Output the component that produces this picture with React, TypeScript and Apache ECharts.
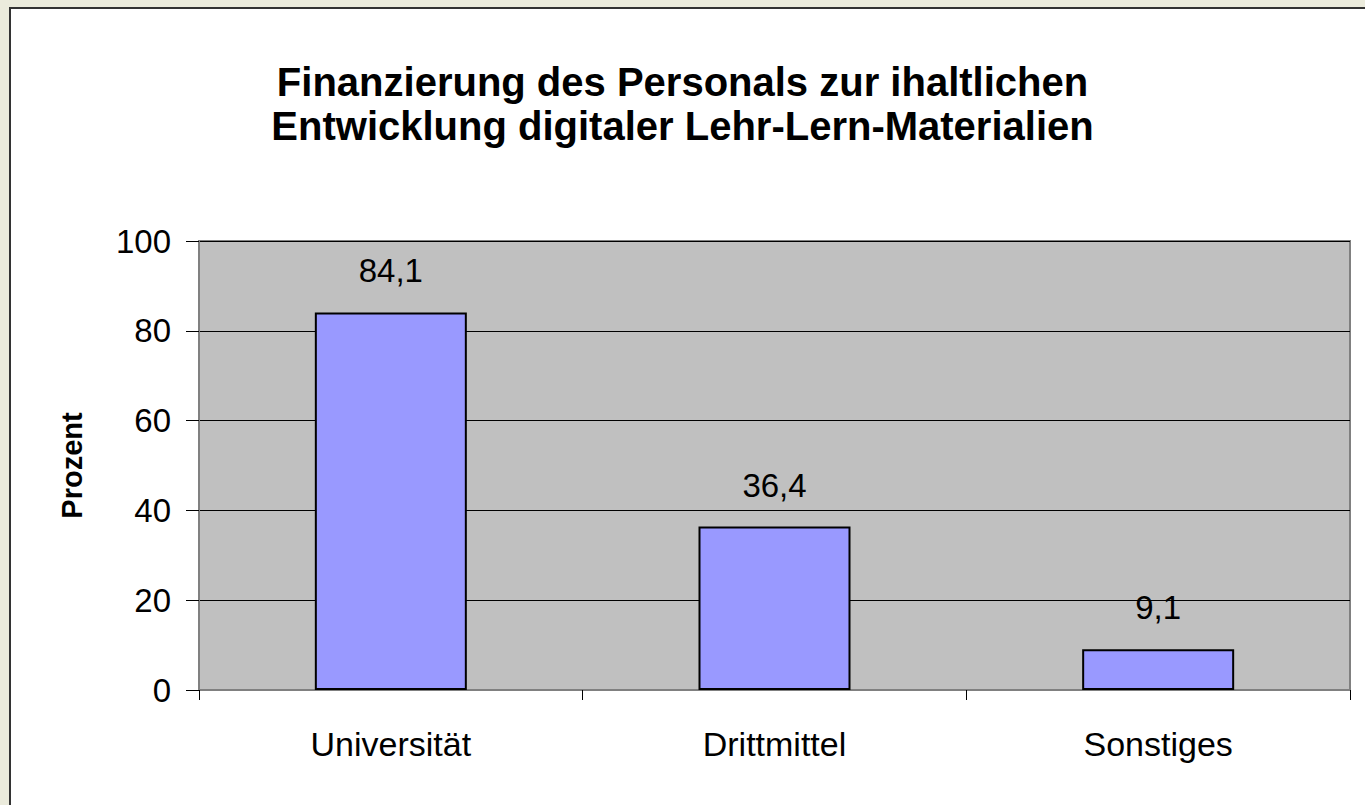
import React, { useEffect, useRef } from "react";
import * as echarts from "echarts";

const categories = ["Universität", "Drittmittel", "Sonstiges"];
const values = [84.1, 36.4, 9.1];
const yTicks = { min: 0, max: 100, interval: 20 };
const titleLines = [
  "Finanzierung des Personals zur ihaltlichen",
  "Entwicklung digitaler Lehr-Lern-Materialien",
];
const yAxisName = "Prozent";

const FONT = "'Liberation Sans', Arial, sans-serif";

export default function App() {
  const ref = useRef<HTMLDivElement>(null);
  useEffect(() => {
    document.body.style.margin = "0";
    const chart = echarts.init(ref.current!, null, { renderer: "svg" });
    chart.setOption({
      animation: false,
      backgroundColor: "transparent",
      textStyle: { fontFamily: FONT },
      graphic: [
        {
          type: "rect",
          shape: { x: 10, y: 8, width: 1400, height: 900 },
          style: { fill: "#ffffff", stroke: "#333333", lineWidth: 2 },
          silent: true,
          z: -10,
        },
      ],
      title: {
        text: titleLines.join("\n"),
        left: "center",
        top: 55,
        textStyle: {
          fontFamily: FONT,
          fontSize: 40,
          fontWeight: "bold",
          color: "#000",
          lineHeight: 44,
        },
      },
      grid: {
        left: 199,
        top: 241,
        right: 15,
        bottom: 115,
        show: true,
        backgroundColor: "#C0C0C0",
        borderColor: "#808080",
        borderWidth: 2,
      },
      xAxis: {
        type: "category",
        data: categories,
        axisLine: { lineStyle: { color: "#808080", width: 2 } },
        axisTick: { show: true, alignWithLabel: false, length: 10, lineStyle: { color: "#000" } },
        axisLabel: { fontSize: 34, color: "#000", margin: 37, fontFamily: FONT },
      },
      yAxis: {
        type: "value",
        min: yTicks.min,
        max: yTicks.max,
        interval: yTicks.interval,
        name: yAxisName,
        nameLocation: "middle",
        nameRotate: 90,
        nameGap: 113,
        nameTextStyle: { fontSize: 29, fontWeight: "bold", color: "#000", fontFamily: FONT },
        axisLine: { show: true, lineStyle: { color: "#808080", width: 2 } },
        axisTick: { show: true, length: 13, lineStyle: { color: "#000" } },
        axisLabel: { fontSize: 33, color: "#000", margin: 28, fontFamily: FONT },
        splitLine: { show: true, lineStyle: { color: "#000", width: 1 } },
      },
      series: [
        {
          type: "bar",
          data: values,
          barWidth: 152,
          itemStyle: { color: "#9999FF", borderColor: "#000", borderWidth: 2 },
          label: {
            show: true,
            position: "top",
            distance: 25,
            fontSize: 33,
            color: "#000",
            fontFamily: FONT,
            formatter: (p: any) => String(p.value).replace(".", ","),
          },
        },
      ],
    });
    return () => chart.dispose();
  }, []);
  return (
    <div
      style={{
        position: "fixed",
        left: 0,
        top: 0,
        width: 1365,
        height: 805,
        background: "#EBEBDC",
        overflow: "hidden",
      }}
    >
      <div ref={ref} style={{ width: 1365, height: 805 }} />
    </div>
  );
}
